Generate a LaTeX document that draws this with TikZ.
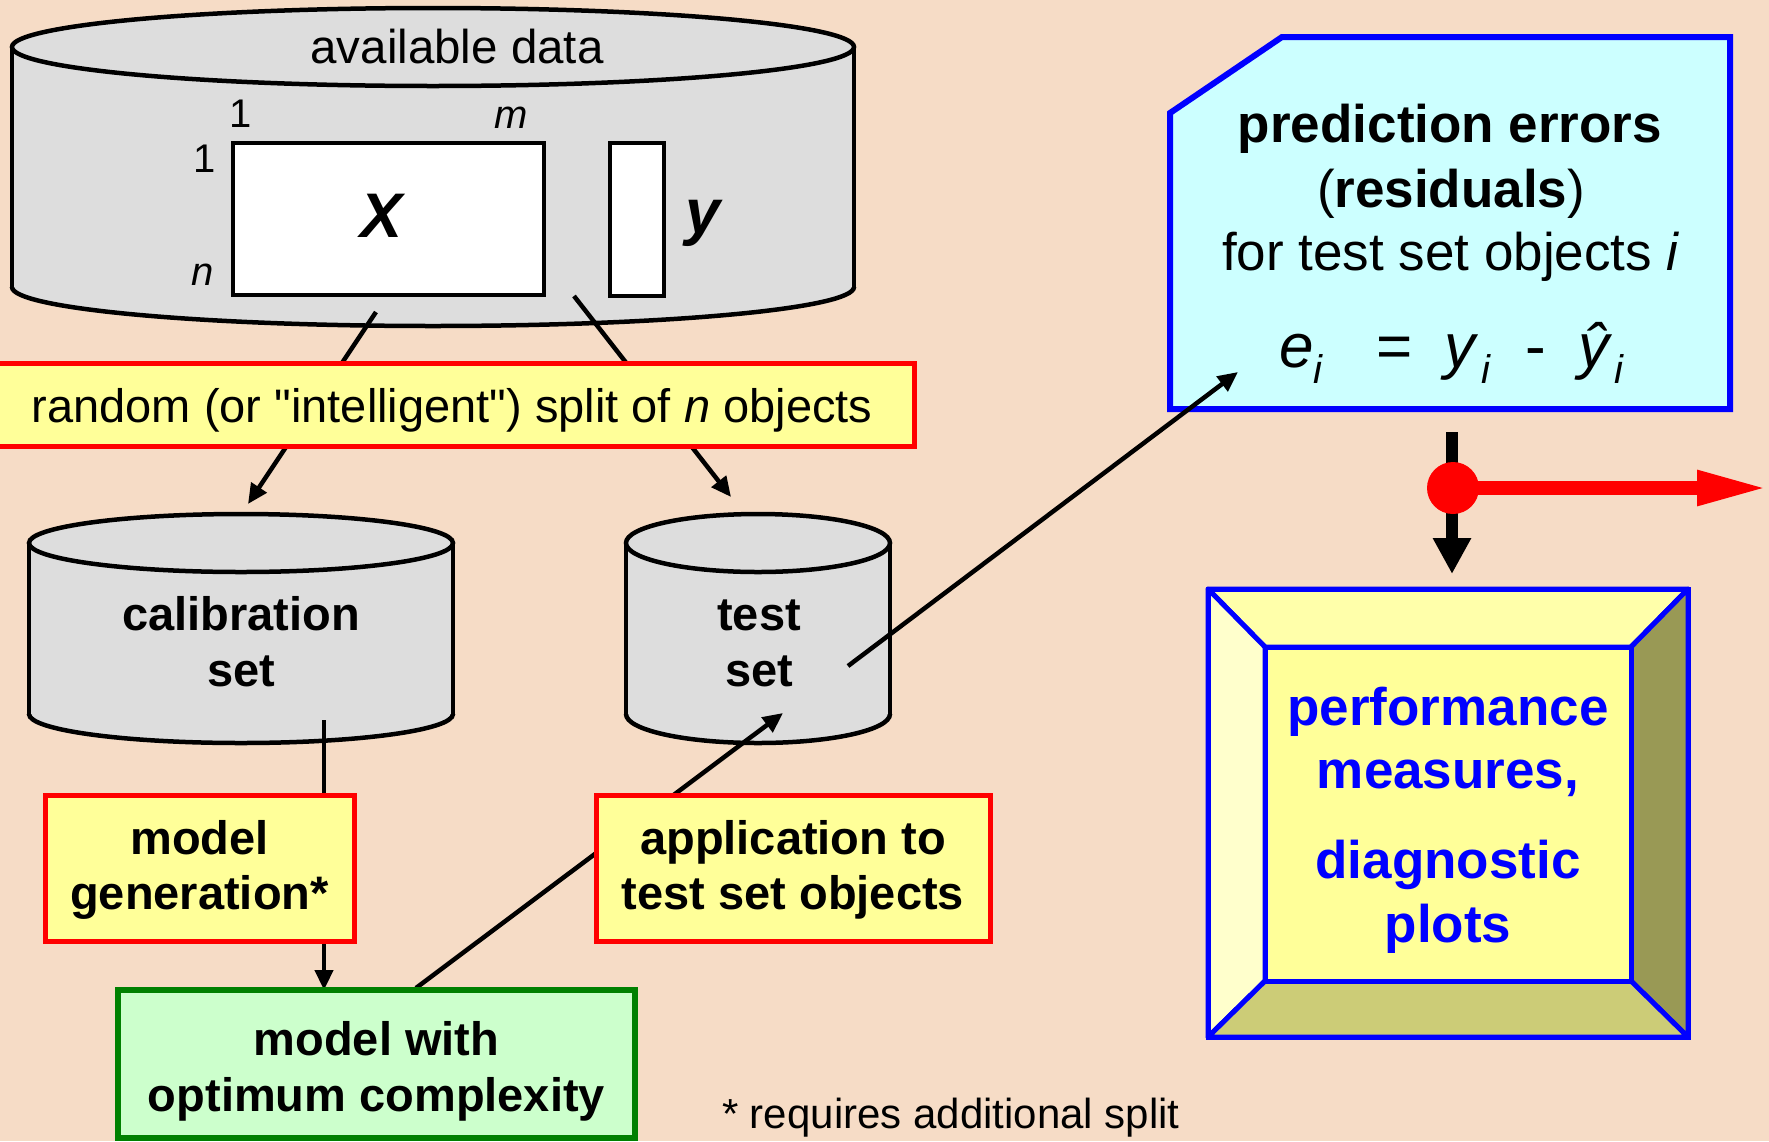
\documentclass[tikz,border=0pt]{standalone}
\usepackage{fontspec}
\setmainfont{Liberation Sans}[Ligatures=TeXOff]
\usetikzlibrary{arrows.meta}
\definecolor{bgpeach}{RGB}{246,220,198}
\definecolor{cylgray}{RGB}{221,221,221}
\definecolor{boxyellow}{RGB}{255,255,153}
\definecolor{predcyan}{RGB}{204,255,255}
\definecolor{modgreen}{RGB}{204,255,204}
\definecolor{darkgreen}{RGB}{0,128,0}
\definecolor{bevtop}{RGB}{255,255,170}
\definecolor{bevleft}{RGB}{255,255,204}
\definecolor{bevright}{RGB}{153,153,85}
\definecolor{bevbottom}{RGB}{204,204,119}
\newcommand{\fsz}[1]{\fontsize{#1}{#1}\selectfont}
% cx, rx, ytop, ybottom, ry
\newcommand{\dbcyl}[5]{%
  \fill[cylgray] (#1-#2,#3) rectangle (#1+#2,#4);
  \fill[cylgray] (#1,#4) ellipse[x radius=#2, y radius=#5];
  \begin{scope}
    \clip (#1-#2-10,#4) rectangle (#1+#2+10,#4+#5+10);
    \draw[cylline] (#1,#4) ellipse[x radius=#2, y radius=#5];
  \end{scope}
  \draw[cylline] (#1-#2,#3) -- (#1-#2,#4) (#1+#2,#3) -- (#1+#2,#4);
  \draw[cylline, fill=cylgray] (#1,#3) ellipse[x radius=#2, y radius=#5];
}
\tikzset{
  cylline/.style={line width=4.5pt, draw=black},
  lbl/.style={anchor=base, inner sep=0pt, outer sep=0pt},
  conn/.style={line width=4.5pt, -{Triangle[length=20pt,width=18pt]}},
  redbox/.style={draw=red, line width=5pt, fill=boxyellow, inner sep=0pt},
  bevfill/.style={draw=blue, line width=5pt, line join=round},
}
\begin{document}
\begin{tikzpicture}[x=1pt,y=-1pt]
\fill[bgpeach] (0,0) rectangle (1769,1141);
\useasboundingbox (0,0) rectangle (1769,1141);

% ---------- connector end points ----------
\coordinate (xout1) at (376,312);
\coordinate (xout2) at (574,296);
\coordinate (calin) at (248,504);
\coordinate (testin) at (731,497);
\coordinate (calout) at (324,720);
\coordinate (modin) at (324,990);
\coordinate (modout) at (416,988);
\coordinate (testin2) at (783,713);
\coordinate (testout) at (848,666);
\coordinate (predin) at (1238,372);

% ---------- available data cylinder ----------
\dbcyl{433}{421}{47}{287}{39}
\node[lbl, font=\fsz{47.5}] (avail) at (457,63) {available data};
\node[draw, line width=4.5pt, fill=white, minimum width=311pt, minimum height=152pt, inner sep=0pt] (Xmat) at (388.5,219) {};
\node[draw, line width=4.5pt, fill=white, minimum width=54pt, minimum height=153pt, inner sep=0pt] (yvec) at (637,219.5) {};
\node[lbl, font=\fsz{63}\bfseries\itshape] (Xlbl) at (382,237) {X};
\node[lbl, font=\fsz{63}\bfseries\itshape] (ylbl) at (703,233) {y};
\node[lbl, font=\fsz{40}] (col1) at (241,127) {1};
\node[lbl, font=\fsz{40}\itshape] (colm) at (511,128) {m};
\node[lbl, font=\fsz{40}] (row1) at (205,172) {1};
\node[lbl, font=\fsz{40}\itshape] (rown) at (203,285) {n};

\draw[conn] (xout1) -- (calin);
\draw[conn] (xout2) -- (testin);

% ---------- split box ----------
\node[redbox, minimum width=917pt, minimum height=83pt] (split) at (455.5,404.5) {};
\node[lbl, font=\fsz{47}] (splittxt) at (452,422) {random (or "intelligent") split of \textit{n} objects};

% ---------- calibration and test cylinders ----------
\dbcyl{241}{212}{543}{714}{29}
\dbcyl{758}{132}{543}{714}{29}
\node[lbl, font=\fsz{47}\bfseries] (cal1) at (241,630) {calibration};
\node[lbl, font=\fsz{47}\bfseries] (cal2) at (241,686) {set};
\node[lbl, font=\fsz{47}\bfseries] (test1) at (759,630) {test};
\node[lbl, font=\fsz{47}\bfseries] (test2) at (759,686) {set};

\draw[conn] (calout) -- (modin);
\draw[conn] (modout) -- (testin2);

% ---------- model generation / application ----------
\node[redbox, minimum width=309pt, minimum height=146pt] (modgen) at (199.5,868) {};
\node[lbl, font=\fsz{47}\bfseries] (modgen1) at (199.5,854) {model};
\node[lbl, font=\fsz{47}\bfseries] (modgen2) at (199.5,909) {generation*};
\node[redbox, minimum width=394pt, minimum height=146pt] (appl) at (793,868) {};
\node[lbl, font=\fsz{47}\bfseries] (appl1) at (793,854) {application to};
\node[lbl, font=\fsz{47}\bfseries] (appl2) at (793,909) {test set objects};

% ---------- model with optimum complexity ----------
\node[draw=darkgreen, line width=6pt, fill=modgreen, minimum width=517pt, minimum height=148pt, inner sep=0pt] (optmod) at (376.5,1064) {};
\node[lbl, font=\fsz{47}\bfseries] (optmod1) at (376.5,1055) {model with};
\node[lbl, font=\fsz{47}\bfseries] (optmod2) at (376.5,1111) {optimum complexity};

\node[lbl, anchor=base west, font=\fsz{42}] (note) at (722,1128) {* requires additional split};

% ---------- prediction errors box ----------
\draw[draw=blue, line width=6pt, fill=predcyan, line join=miter]
  (1170,113) -- (1282,37) -- (1730,37) -- (1730,409) -- (1170,409) -- cycle;
\node[lbl, font=\fsz{53}\bfseries] (pred1) at (1450,142) {prediction errors};
\node[lbl, font=\fsz{53}] (pred2) at (1451,207) {(\textbf{residuals})};
\node[lbl, font=\fsz{53}] (pred3) at (1451,270) {for test set objects \textit{i}};
\node[lbl, anchor=base west, font=\fsz{62}\itshape] (fe) at (1279,367) {e};
\node[lbl, anchor=base west, font=\fsz{40}\itshape] (fei) at (1313,383) {i};
\node[lbl, font=\fsz{62}] (feq) at (1395,367) {=};
\node[lbl, anchor=base west, font=\fsz{62}\itshape] (fy) at (1444,367) {y};
\node[lbl, anchor=base west, font=\fsz{40}\itshape] (fyi) at (1481,383) {i};
\node[lbl, font=\fsz{62}] (fmin) at (1536,367) {-};
\node[lbl, anchor=base west, font=\fsz{62}\itshape] (fyh) at (1578,367) {ŷ};
\node[lbl, anchor=base west, font=\fsz{40}\itshape] (fyhi) at (1614,383) {i};

\draw[conn] (testout) -- (predin);

% ---------- arrows to performance box ----------
\coordinate (predout) at (1452,432);
\coordinate (perfin) at (1452,574);
\coordinate (redtip) at (1769,488);
\draw[line width=12pt, -{Triangle[length=36pt,width=36pt]}] (predout) -- (perfin);
\node[circle, fill=red, minimum size=52pt, inner sep=0pt] (dot) at (1453,488) {};
\draw[red, line width=14pt, -{Triangle[length=72pt,width=32pt]}] (dot.center) -- (redtip);

% ---------- performance box ----------
\coordinate (O1) at (1208,589); \coordinate (O2) at (1688,589);
\coordinate (O3) at (1688,1037); \coordinate (O4) at (1208,1037);
\coordinate (I1) at (1265,647); \coordinate (I2) at (1631,647);
\coordinate (I3) at (1631,981); \coordinate (I4) at (1265,981);
\draw[bevfill, fill=bevtop] (O1) -- (O2) -- (I2) -- (I1) -- cycle;
\draw[bevfill, fill=bevleft] (O1) -- (I1) -- (I4) -- (O4) -- cycle;
\draw[bevfill, fill=bevright] (O2) -- (O3) -- (I3) -- (I2) -- cycle;
\draw[bevfill, fill=bevbottom] (O4) -- (O3) -- (I3) -- (I4) -- cycle;
\draw[draw=blue, line width=5pt, fill=boxyellow] (I1) rectangle (I3);
\draw[draw=blue, line width=5pt] (O1) rectangle (O3);
\node[lbl, font=\fsz{53}\bfseries, text=blue] (perf1) at (1448,725) {performance};
\node[lbl, font=\fsz{53}\bfseries, text=blue] (perf2) at (1448,788) {measures,};
\node[lbl, font=\fsz{53}\bfseries, text=blue] (perf3) at (1448,878) {diagnostic};
\node[lbl, font=\fsz{53}\bfseries, text=blue] (perf4) at (1448,942) {plots};
\end{tikzpicture}
\end{document}
